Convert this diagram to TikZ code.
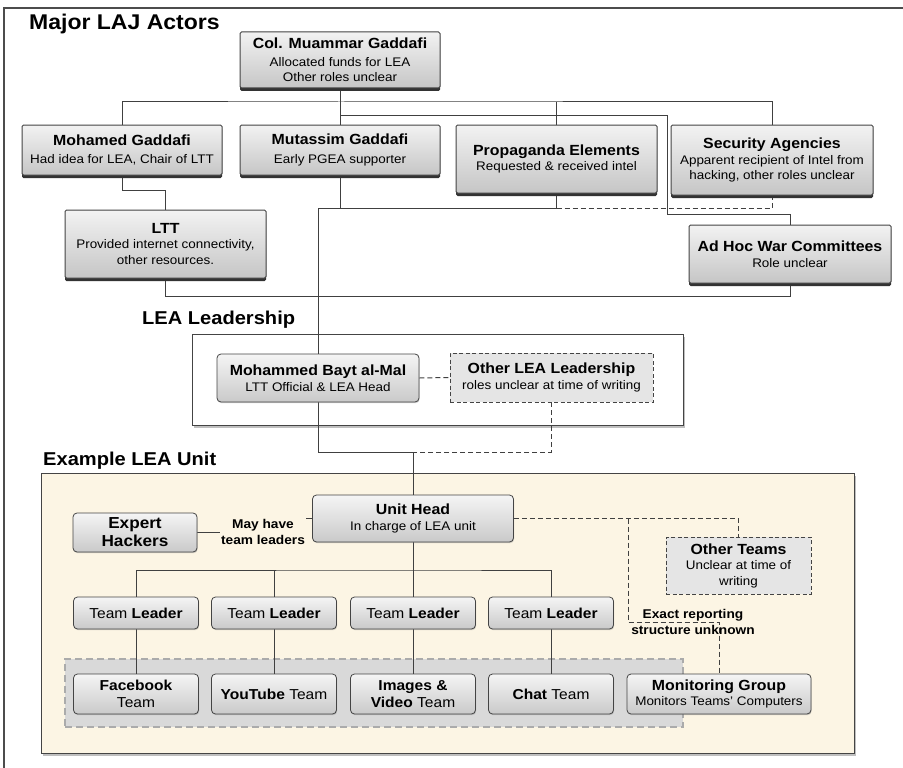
\documentclass[tikz,border=0pt]{standalone}
\usepackage{fontspec}
\setmainfont{Liberation Sans}[FakeStretch=1.08]
\usetikzlibrary{shadows}
\definecolor{edge}{HTML}{444444}
\definecolor{cream}{HTML}{FCF5E4}
\definecolor{grp}{HTML}{D9D9D9}
\definecolor{grpedge}{HTML}{ABABAB}
\pgfdeclarelayer{bg}\pgfdeclarelayer{lines}
\pgfsetlayers{bg,lines,main}
\newcommand\subsz{\fontsize{12.45}{15.5}\selectfont}
\newcommand\TT[1]{{\fontsize{14.7}{15.5}\selectfont\bfseries #1}}
\newcommand\teamsz{\fontsize{14.4}{16.5}\selectfont}
\tikzset{
  actor/.style={draw=edge, line width=1pt, rounded corners=1.5pt, top color=gray!10, bottom color=gray!45,
    drop shadow={shadow xshift=0pt, shadow yshift=-3pt, fill=black!80, opacity=1},
    align=center, inner sep=2pt, font=\subsz},
  rbox/.style={draw=edge, line width=0.8pt, rounded corners=4pt, top color=gray!8, bottom color=gray!42,
    drop shadow={shadow xshift=0.6pt, shadow yshift=-1.2pt, opacity=0.35},
    align=center, inner sep=2pt, font=\subsz},
  dbox/.style={draw=edge, dash pattern=on 4pt off 2.5pt, line width=0.9pt, fill=gray!20, align=center, inner sep=2pt, font=\subsz},
  container/.style={draw=edge, line width=1pt, inner sep=0pt,
    drop shadow={shadow xshift=1.5pt, shadow yshift=-3pt, opacity=0.5}},
  sect/.style={font=\fontsize{18.6}{20}\selectfont\bfseries, anchor=base west, inner sep=0pt},
  lbl/.style={font=\fontsize{12.7}{16}\selectfont\bfseries, align=center, inner sep=1pt},
  conn/.style={draw=black!75, line width=1pt},
  dconn/.style={conn, dash pattern=on 5pt off 3pt}
}
\begin{document}
\begin{tikzpicture}[x=1pt,y=-1pt]
\useasboundingbox (0,0) rectangle (903,768);
\draw[line width=1.3pt, black!70] (4,768) -- (4,8) -- (903,8);

% containers
\begin{pgfonlayer}{bg}
\node[container, fill=white, minimum width=491pt, minimum height=91pt] (leabox) at (437.5,379.5) {};
\node[container, fill=cream, minimum width=813pt, minimum height=280pt] (unitbox) at (447.5,613) {};
\node[draw=grpedge, fill=grp, line width=1.5pt, dash pattern=on 7pt off 4pt, minimum width=618pt, minimum height=68pt, inner sep=0pt] (grp) at (374,693) {};
\end{pgfonlayer}

% section titles
\node[sect, font=\fontsize{21.3}{23}\selectfont\bfseries] (t1) at (29,30) {Major LAJ Actors};
\node[sect] (t2) at (142,324) {LEA Leadership};
\node[sect] (t3) at (43,465) {Example LEA Unit};

% major actors
\node[actor, minimum width=200pt, minimum height=56pt] (col) at (340,60) {\TT{Col. Muammar Gaddafi}\\[2pt]Allocated funds for LEA\\Other roles unclear};
\node[actor, minimum width=200pt, minimum height=50pt] (moh) at (122,150) {\TT{Mohamed Gaddafi}\\[3pt]Had idea for LEA, Chair of LTT};
\node[actor, minimum width=200pt, minimum height=50pt] (mut) at (340,150) {\TT{Mutassim Gaddafi}\\[3pt]Early PGEA supporter};
\node[actor, minimum width=201pt, minimum height=68pt] (prop) at (556.5,159) {\TT{Propaganda Elements}\\Requested \& received intel};
\node[actor, minimum width=202pt, minimum height=70pt] (sec) at (772,160) {\TT{Security Agencies}\\Apparent recipient of Intel from\\hacking, other roles unclear};
\node[actor, minimum width=201pt, minimum height=68pt] (ltt) at (165.5,244) {\TT{LTT}\\Provided internet connectivity,\\other resources.};
\node[actor, minimum width=202pt, minimum height=58pt] (adhoc) at (790,254) {\TT{Ad Hoc War Committees}\\Role unclear};

% leadership
\node[rbox, minimum width=202pt, minimum height=48pt] (bayt) at (318,378) {\TT{Mohammed Bayt al-Mal}\\LTT Official \& LEA Head};
\node[dbox, minimum width=203pt, minimum height=49pt] (other) at (551.5,377.5) {\TT{Other LEA Leadership}\\roles unclear at time of writing};

% unit
\node[rbox, minimum width=201pt, minimum height=47pt] (uh) at (413,518.5) {\TT{Unit Head}\\In charge of LEA unit};
\node[rbox, minimum width=124pt, minimum height=39pt, font=\fontsize{15.9}{18}\selectfont\bfseries] (ex) at (135,532.5) {Expert\\Hackers};
\node[dbox, minimum width=145pt, minimum height=57pt] (ot) at (738.5,565.5) {\TT{Other Teams}\\Unclear at time of\\writing};

\foreach \i/\x in {1/136,2/274,3/413,4/551}{
  \node[rbox, minimum width=125pt, minimum height=32pt, font=\teamsz] (tl\i) at (\x,613) {Team \textbf{Leader}};
}
\node[rbox, minimum width=125pt, minimum height=40pt, font=\teamsz] (tm1) at (136,694) {\textbf{Facebook}\\Team};
\node[rbox, minimum width=125pt, minimum height=40pt, font=\teamsz] (tm2) at (274,694) {\textbf{YouTube} Team};
\node[rbox, minimum width=125pt, minimum height=40pt, font=\teamsz] (tm3) at (413,694) {\textbf{Images \&}\\\textbf{Video} Team};
\node[rbox, minimum width=125pt, minimum height=40pt, font=\teamsz] (tm4) at (551,694) {\textbf{Chat} Team};
\node[rbox, minimum width=184pt, minimum height=40pt] (mon) at (719,694) {\TT{Monitoring Group}\\Monitors Teams' Computers};

\node[lbl, fill=cream] (lb1) at (263,532) {May have\\team leaders};
\node[lbl] (lb2) at (693,622) {Exact reporting\\structure unknown};

% connectors
\begin{pgfonlayer}{lines}
\coordinate (bus) at (340,102);
\coordinate (j2) at (340,115);
\coordinate (k2) at (667,214);
\coordinate (h1) at (318,208);
\coordinate (h2) at (413,452);
\coordinate (d1) at (628,518.5);
\coordinate (d2) at (628,622);
\coordinate (tb) at (413,570);
\draw[conn] (moh.north) |- (bus) -| (sec.north);
\draw[conn] (prop.north) -- (prop.north |- bus);
\draw[conn] (col.south) -- (mut.north);
\draw[conn] (j2) -| (k2) -| (adhoc.north);
\draw[conn] (moh.south) -- ++(0,15) -| (ltt.north);
\draw[conn] (ltt.south) -- ++(0,18) -| (adhoc.south);
\draw[conn] (mut.south) |- (h1) -- (bayt.north);
\draw[conn] (prop.south) |- (h1);
\draw[dconn] (prop.south |- h1) -| (sec.south);
\draw[dconn] (bayt.east) -- (other.west);
\draw[conn] (bayt.south) |- (h2) -- (uh.north);
\draw[dconn] (other.south) |- (h2);
\draw[conn] (ex.east) -- ++(108,0) |- (uh.west);
\draw[dconn] (uh.east) -| (ot.north);
\draw[dconn] (d1) -- (d2) -| (mon.north);
\draw[conn] (tl1.north) |- (tb) -| (tl4.north);
\draw[conn] (tl2.north) -- (tl2.north |- tb);
\draw[conn] (uh.south) -- (tl3.north);
\foreach \i in {1,2,3,4}{\draw[conn] (tl\i.south) -- (tm\i.north);}
\end{pgfonlayer}
\end{tikzpicture}
\end{document}
